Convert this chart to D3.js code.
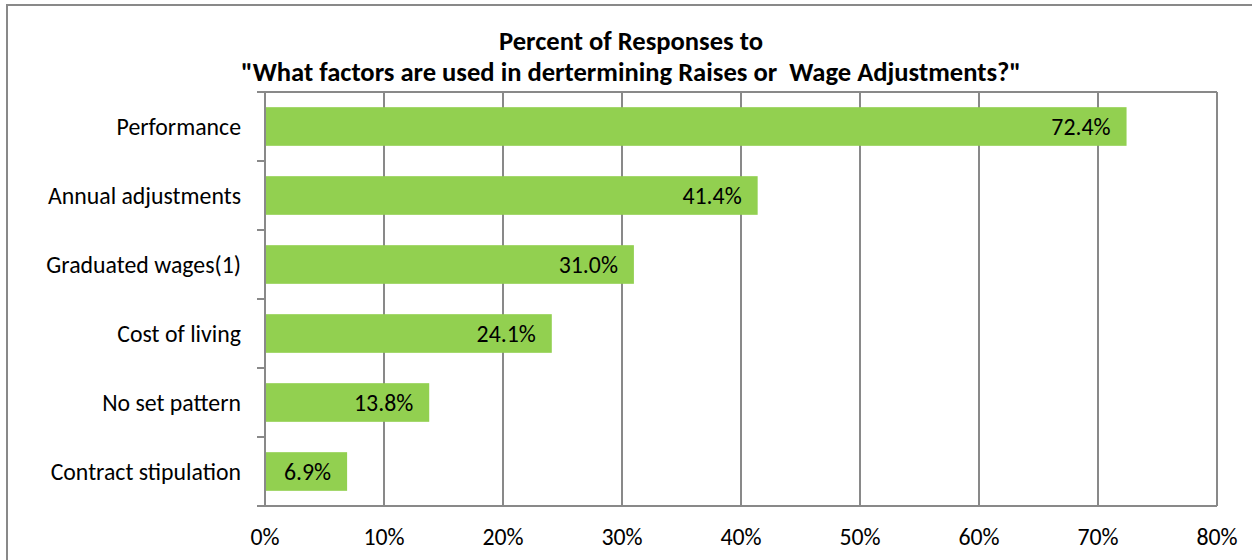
<!DOCTYPE html>
<html>
<head>
<meta charset="utf-8">
<script src="https://cdn.jsdelivr.net/npm/d3@7"></script>
<style>
  html, body { margin: 0; padding: 0; background: #fff; }
  svg { display: block; }
  text { font-family: Carlito, Calibri, Lato, sans-serif; fill: #000; }
</style>
</head>
<body>
<svg id="chart" width="1252" height="560"></svg>
<script>
// Survey factors and share of responses (fraction of respondents)
const categories = [
  "Performance",
  "Annual adjustments",
  "Graduated wages(1)",
  "Cost of living",
  "No set pattern",
  "Contract stipulation"
];
const values = [0.724, 0.414, 0.310, 0.241, 0.138, 0.069];
const xTicks = [0, 0.1, 0.2, 0.3, 0.4, 0.5, 0.6, 0.7, 0.8];
const titleLines = [
  "Percent of Responses to",
  "\"What factors are used in dertermining Raises or  Wage Adjustments?\""
];

const W = 1252, H = 560;
const plot = { left: 265, right: 1217, top: 92, bottom: 506 };
const gray = "#898989";
const barColor = "#92D050";
const labelSize = 23.8;

const svg = d3.select("#chart");

// chart frame
svg.append("rect")
  .attr("x", 7).attr("y", 5)
  .attr("width", W + 20).attr("height", H + 20)
  .attr("fill", "#fff")
  .attr("stroke", gray).attr("stroke-width", 2);

const x = d3.scaleLinear().domain([0, 0.8]).range([plot.left, plot.right]);
const slots = d3.scaleBand().domain(categories).range([plot.top, plot.bottom]).padding(0);
const y = d3.scaleBand().domain(categories).range([plot.top, plot.bottom])
  .paddingInner(0.44).paddingOuter(0.22);

// vertical gridlines
svg.append("g").selectAll("line")
  .data(xTicks)
  .join("line")
  .attr("x1", d => x(d)).attr("x2", d => x(d))
  .attr("y1", plot.top).attr("y2", plot.bottom)
  .attr("stroke", gray).attr("stroke-width", 2);

// plot area top edge
svg.append("line")
  .attr("x1", plot.left - 8).attr("x2", plot.right)
  .attr("y1", plot.top).attr("y2", plot.top)
  .attr("stroke", gray).attr("stroke-width", 2);

// bars
svg.append("g").selectAll("rect")
  .data(values)
  .join("rect")
  .attr("x", x(0))
  .attr("y", (d, i) => y(categories[i]))
  .attr("width", d => x(d) - x(0))
  .attr("height", y.bandwidth())
  .attr("fill", barColor);

// value labels inside the bar ends
svg.append("g").selectAll("text")
  .data(values)
  .join("text")
  .attr("x", d => x(d) - 16)
  .attr("y", (d, i) => y(categories[i]) + y.bandwidth() / 2)
  .attr("dy", "0.34em")
  .attr("text-anchor", "end")
  .attr("font-size", labelSize)
  .text(d => d3.format(".1%")(d));

// category axis with ticks on slot boundaries
const yAxis = svg.append("g");
yAxis.append("line")
  .attr("x1", plot.left).attr("x2", plot.left)
  .attr("y1", plot.top).attr("y2", plot.bottom)
  .attr("stroke", gray).attr("stroke-width", 2);
const boundaries = categories.map(c => slots(c)).concat([plot.bottom]);
yAxis.selectAll("line.tick")
  .data(boundaries)
  .join("line")
  .attr("class", "tick")
  .attr("x1", plot.left - 8).attr("x2", plot.left)
  .attr("y1", d => d).attr("y2", d => d)
  .attr("stroke", gray).attr("stroke-width", 2);
yAxis.selectAll("text")
  .data(categories)
  .join("text")
  .attr("x", plot.left - 24)
  .attr("y", d => slots(d) + slots.bandwidth() / 2)
  .attr("dy", "0.34em")
  .attr("text-anchor", "end")
  .attr("font-size", labelSize)
  .text(d => d);

// value axis
const xAxis = svg.append("g");
xAxis.append("line")
  .attr("x1", plot.left - 8).attr("x2", plot.right)
  .attr("y1", plot.bottom).attr("y2", plot.bottom)
  .attr("stroke", gray).attr("stroke-width", 2);
xAxis.selectAll("text")
  .data(xTicks)
  .join("text")
  .attr("x", d => x(d))
  .attr("y", 545)
  .attr("text-anchor", "middle")
  .attr("font-size", labelSize)
  .text(d => d3.format(".0%")(d));

// title
svg.append("g").selectAll("text")
  .data(titleLines)
  .join("text")
  .attr("x", 631)
  .attr("y", (d, i) => 50 + i * 31)
  .attr("text-anchor", "middle")
  .attr("font-size", 26.6)
  .attr("font-weight", "bold")
  .style("white-space", "pre")
  .text(d => d);
</script>
</body>
</html>
